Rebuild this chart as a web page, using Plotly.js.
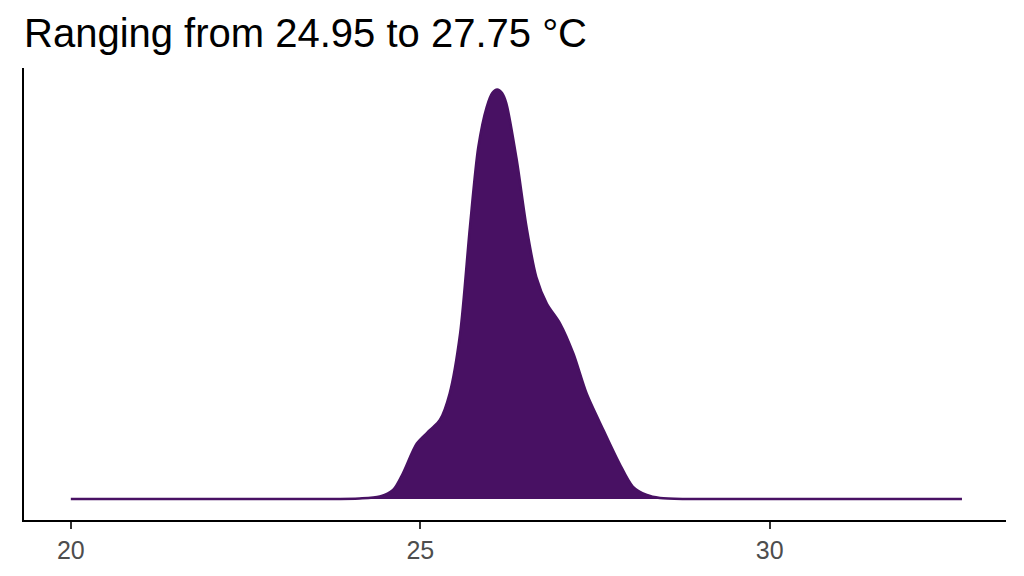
<!DOCTYPE html>
<html>
<head>
<meta charset="utf-8">
<script src="https://cdn.plot.ly/plotly-3.0.1.min.js"></script>
<style>html,body{margin:0;padding:0;background:#fff;}#chart{width:1024px;height:576px;}</style>
</head>
<body>
<div id="chart"></div>
<script>
// Temperature (°C) and estimated density
const temperature = [20.00, 21.00, 22.00, 23.00, 23.60, 24.13, 24.42, 24.61, 24.75, 24.95, 25.14, 25.28, 25.42, 25.57, 25.71, 25.83, 25.95, 26.03, 26.10, 26.17, 26.23, 26.38, 26.52, 26.66, 26.81, 27.00, 27.19, 27.38, 27.62, 27.85, 28.04, 28.24, 28.43, 28.80, 29.50, 30.50, 31.50, 32.75];
const density = [0.000, 0.000, 0.000, 0.000, 0.000, 0.001, 0.005, 0.018, 0.051, 0.111, 0.138, 0.158, 0.211, 0.331, 0.544, 0.704, 0.784, 0.812, 0.819, 0.812, 0.792, 0.678, 0.544, 0.444, 0.391, 0.351, 0.291, 0.211, 0.138, 0.071, 0.025, 0.008, 0.002, 0.000, 0.000, 0.000, 0.000, 0.000];
const xTicks = [20, 25, 30];
const xTickLabels = ["20", "25", "30"];
const titleText = "Ranging from 24.95 to 27.75 °C";

const fillColor = "#481163";

const trace = {
  x: temperature,
  y: density,
  type: "scatter",
  mode: "lines",
  fill: "tozeroy",
  fillcolor: fillColor,
  line: {color: fillColor, width: 2.5, shape: "spline", smoothing: 0.8},
  hoverinfo: "skip"
};

const layout = {
  width: 1024,
  height: 576,
  paper_bgcolor: "#ffffff",
  plot_bgcolor: "#ffffff",
  margin: {l: 24, r: 18, t: 68, b: 56},
  showlegend: false,
  font: {family: "Liberation Sans, Arial, sans-serif"},
  title: {
    text: titleText,
    font: {family: "Liberation Sans, Arial, sans-serif", size: 40, color: "#000000"},
    x: 0, xref: "paper", xanchor: "left",
    y: 0.943, yref: "container", yanchor: "middle"
  },
  xaxis: {
    range: [19.33, 33.38],
    tickvals: xTicks,
    ticktext: xTickLabels,
    ticks: "outside",
    ticklen: 7,
    tickwidth: 1.8,
    tickcolor: "#333333",
    tickfont: {size: 25, color: "#4d4d4d"},
    showgrid: false,
    zeroline: false,
    showline: true,
    linecolor: "#000000",
    linewidth: 2.2,
    fixedrange: true
  },
  yaxis: {
    range: [-0.042, 0.862],
    showticklabels: false,
    ticks: "",
    showgrid: false,
    zeroline: false,
    showline: true,
    linecolor: "#000000",
    linewidth: 2.2,
    fixedrange: true
  }
};

Plotly.newPlot("chart", [trace], layout, {displayModeBar: false, staticPlot: true});
</script>
</body>
</html>
